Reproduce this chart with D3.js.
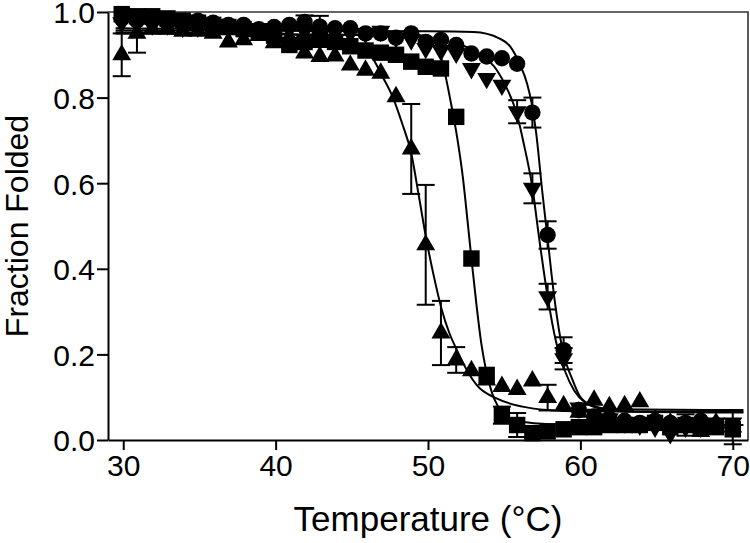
<!DOCTYPE html>
<html>
<head>
<meta charset="utf-8">
<script src="https://cdn.jsdelivr.net/npm/d3@7"></script>
<style>
  html, body { margin: 0; padding: 0; background: #fff; }
  svg { display: block; font-family: "Liberation Sans", Arial, sans-serif; }
</style>
</head>
<body>
<div id="chart"></div>
<script>
// temperatures (°C) shared by all four series
const temps = [29.9, 30.9, 31.9, 32.9, 33.9, 34.9, 35.9, 36.9, 37.9, 38.9,
  39.9, 40.9, 41.9, 42.9, 43.9, 44.9, 45.9, 46.9, 47.9, 48.9,
  49.85, 50.85, 51.85, 52.85, 53.85, 54.85, 55.85, 56.85, 57.85, 58.9,
  59.9, 60.9, 61.9, 62.9, 63.9, 64.9, 65.9, 66.9, 67.9, 68.9, 70.0];

const circleVals = [0.985, 0.98, 0.98, 0.975, 0.975, 0.98, 0.975, 0.97, 0.97, 0.96,
  0.965, 0.97, 0.977, 0.966, 0.962, 0.962, 0.95, 0.95, 0.94, 0.95,
  0.93, 0.935, 0.923, 0.903, 0.896, 0.892, 0.879, 0.765, 0.479, 0.21,
  0.07, 0.055, 0.05, 0.045, 0.04, 0.045, 0.04, 0.04, 0.045, 0.035, 0.03];
const circleErr = [0, 0, 0, 0, 0, 0, 0, 0, 0, 0,
  0, 0, 0.015, 0.025, 0, 0, 0, 0, 0, 0,
  0, 0, 0, 0, 0, 0, 0, 0.035, 0.032, 0.03,
  0, 0, 0, 0, 0, 0, 0, 0, 0, 0, 0];

const invTriVals = [0.975, 0.975, 0.97, 0.97, 0.965, 0.965, 0.965, 0.965, 0.96, 0.96,
  0.96, 0.96, 0.955, 0.955, 0.955, 0.95, 0.95, 0.955, 0.94, 0.935,
  0.915, 0.91, 0.904, 0.868, 0.845, 0.829, 0.767, 0.588, 0.335, 0.19,
  0.075, 0.06, 0.05, 0.04, 0.035, 0.03, 0.015, 0.03, 0.03, 0.04, 0.04];
const invTriErr = [0, 0, 0, 0, 0, 0, 0, 0, 0, 0,
  0, 0, 0, 0, 0, 0, 0, 0, 0, 0,
  0, 0, 0, 0, 0, 0, 0.027, 0.035, 0.03, 0.025,
  0, 0, 0, 0, 0, 0, 0, 0, 0, 0, 0];

const squareVals = [0.995, 0.99, 0.99, 0.985, 0.98, 0.975, 0.97, 0.965, 0.96, 0.955,
  0.945, 0.923, 0.93, 0.935, 0.93, 0.92, 0.91, 0.905, 0.9, 0.884,
  0.872, 0.868, 0.755, 0.424, 0.152, 0.058, 0.035, 0.016, 0.02, 0.025,
  0.03, 0.03, 0.035, 0.035, 0.035, 0.04, 0.03, 0.035, 0.03, 0.03, 0.025];
const squareErr = [0, 0, 0, 0, 0, 0, 0, 0, 0, 0,
  0, 0, 0, 0, 0, 0, 0, 0, 0, 0,
  0, 0, 0, 0, 0, 0.02, 0.028, 0, 0, 0,
  0, 0, 0, 0, 0, 0, 0, 0.025, 0, 0, 0];

const triVals = [0.90, 0.95, 0.96, 0.96, 0.955, 0.955, 0.95, 0.93, 0.935, 0.945,
  0.928, 0.94, 0.904, 0.896, 0.897, 0.876, 0.864, 0.857, 0.802, 0.68,
  0.456, 0.25, 0.187, 0.162, 0.14, 0.125, 0.118, 0.138, 0.099, 0.08,
  0.065, 0.093, 0.078, 0.08, 0.089, 0.047, 0.04, 0.035, 0.02, 0.04, 0.03];
const triErr = [0.05, 0.045, 0, 0, 0, 0, 0, 0, 0, 0,
  0, 0, 0, 0, 0, 0, 0, 0, 0, 0.105,
  0.14, 0.075, 0.03, 0, 0, 0, 0, 0, 0.03, 0,
  0, 0, 0, 0, 0, 0, 0, 0, 0, 0, 0.04];

// fitted curves as [temperature, fraction]
const circleFit = [[29.5, 0.957], [50, 0.955], [53, 0.953], [54.7, 0.938], [55.4, 0.919],
  [56, 0.88], [56.5, 0.833], [56.8, 0.787], [57.1, 0.717], [57.5, 0.58], [57.85, 0.47],
  [58.3, 0.33], [58.9, 0.2], [59.4, 0.148], [60, 0.10], [60.8, 0.08], [62, 0.072], [70.7, 0.07]];
const invTriFit = [[29.5, 0.962], [45, 0.955], [50, 0.94], [52, 0.925], [53.5, 0.9],
  [54.5, 0.865], [55.2, 0.82], [55.8, 0.765], [56.3, 0.69], [56.85, 0.59], [57.3, 0.47],
  [57.85, 0.335], [58.4, 0.23], [59, 0.16], [59.6, 0.115], [60.3, 0.088], [61.5, 0.072],
  [63, 0.066], [70.7, 0.064]];
const squareFit = [[29.5, 0.95], [50, 0.945], [50.6, 0.92], [51, 0.875], [51.3, 0.825],
  [51.6, 0.77], [51.9, 0.71], [52.3, 0.61], [52.6, 0.51], [52.85, 0.424], [53.2, 0.31],
  [53.5, 0.225], [53.8, 0.165], [54.2, 0.11], [54.6, 0.078], [55.2, 0.055], [56, 0.043],
  [58, 0.037], [70.7, 0.035]];
const triFit = [[29.5, 0.952], [40, 0.95], [43, 0.94], [45, 0.925], [46.4, 0.89], [47, 0.85],
  [47.7, 0.80], [48.3, 0.74], [48.9, 0.67], [49.4, 0.57], [49.9, 0.467], [50.4, 0.38],
  [50.9, 0.305], [51.4, 0.25], [51.9, 0.21], [52.6, 0.16], [53.2, 0.128], [54.5, 0.097],
  [56.2, 0.078], [57.8, 0.07], [60, 0.067], [70.7, 0.066]];

const xTicks = [30, 40, 50, 60, 70];
const yTicks = [0, 0.2, 0.4, 0.6, 0.8, 1.0];

const W = 750, H = 543;
const M = {left: 108, right: 2, top: 12, bottom: 103};

const svg = d3.select("#chart").append("svg").attr("width", W).attr("height", H);

const x = d3.scaleLinear().domain([29, 71]).range([M.left, W - M.right]);
const y = d3.scaleLinear().domain([0, 1]).range([H - M.bottom, M.top]);

// frame (top and right)
svg.append("path")
  .attr("d", `M${x(29)},${y(1)}H${x(71)}V${y(0)}`)
  .attr("fill", "none").attr("stroke", "#333").attr("stroke-width", 1.6);

// axes
const xAxis = svg.append("g").attr("transform", `translate(0,${y(0)})`)
  .call(d3.axisBottom(x).tickValues(xTicks).tickFormat(d3.format("d")).tickSize(10).tickSizeOuter(0));
const yAxis = svg.append("g").attr("transform", `translate(${x(29)},0)`)
  .call(d3.axisLeft(y).tickValues(yTicks).tickFormat(d3.format(".1f")).tickSize(11).tickSizeOuter(0));
[xAxis, yAxis].forEach(g => {
  g.select(".domain").attr("stroke", "#000").attr("stroke-width", 2);
  g.selectAll(".tick line").attr("stroke", "#000").attr("stroke-width", 2);
  g.selectAll(".tick text").attr("fill", "#000").attr("font-size", 30)
    .attr("font-family", "'Liberation Sans', Arial, sans-serif");
});
xAxis.selectAll(".tick text").attr("dy", "0.78em").attr("y", 13);
yAxis.selectAll(".tick text").attr("x", -13).attr("dy", "0.36em");

// titles
svg.append("text").attr("x", 428).attr("y", 531).attr("text-anchor", "middle")
  .attr("font-size", 35).text("Temperature (°C)");
svg.append("text").attr("transform", `translate(28,${y(0.5)}) rotate(-90)`)
  .attr("text-anchor", "middle").attr("font-size", 32).text("Fraction Folded");

// fitted curves
const line = d3.line().x(d => x(d[0])).y(d => y(d[1])).curve(d3.curveMonotoneX);
[circleFit, invTriFit, squareFit, triFit].forEach(f => {
  svg.append("path").datum(f).attr("d", line)
    .attr("fill", "none").attr("stroke", "#000").attr("stroke-width", 2);
});

const series = [
  {vals: triVals, err: triErr, type: d3.symbolTriangle, size: 155, rot: 0},
  {vals: squareVals, err: squareErr, type: d3.symbolSquare, size: 270, rot: 0},
  {vals: invTriVals, err: invTriErr, type: d3.symbolTriangle, size: 155, rot: 180},
  {vals: circleVals, err: circleErr, type: d3.symbolCircle, size: 210, rot: 0}
];

series.forEach(s => {
  const pts = temps.map((t, i) => ({t, v: s.vals[i], e: s.err[i]}));
  const eb = svg.append("g").attr("stroke", "#000").attr("stroke-width", 2);
  pts.filter(d => d.e > 0).forEach(d => {
    eb.append("line").attr("x1", x(d.t)).attr("x2", x(d.t))
      .attr("y1", y(d.v - d.e)).attr("y2", y(d.v + d.e));
    [d.v - d.e, d.v + d.e].forEach(v => {
      eb.append("line").attr("x1", x(d.t) - 9).attr("x2", x(d.t) + 9)
        .attr("y1", y(v)).attr("y2", y(v));
    });
  });
  svg.append("g").selectAll("path").data(pts).join("path")
    .attr("d", d3.symbol().type(s.type).size(s.size))
    .attr("transform", d => `translate(${x(d.t)},${y(d.v)}) rotate(${s.rot})`)
    .attr("fill", "#000");
});
</script>
</body>
</html>
